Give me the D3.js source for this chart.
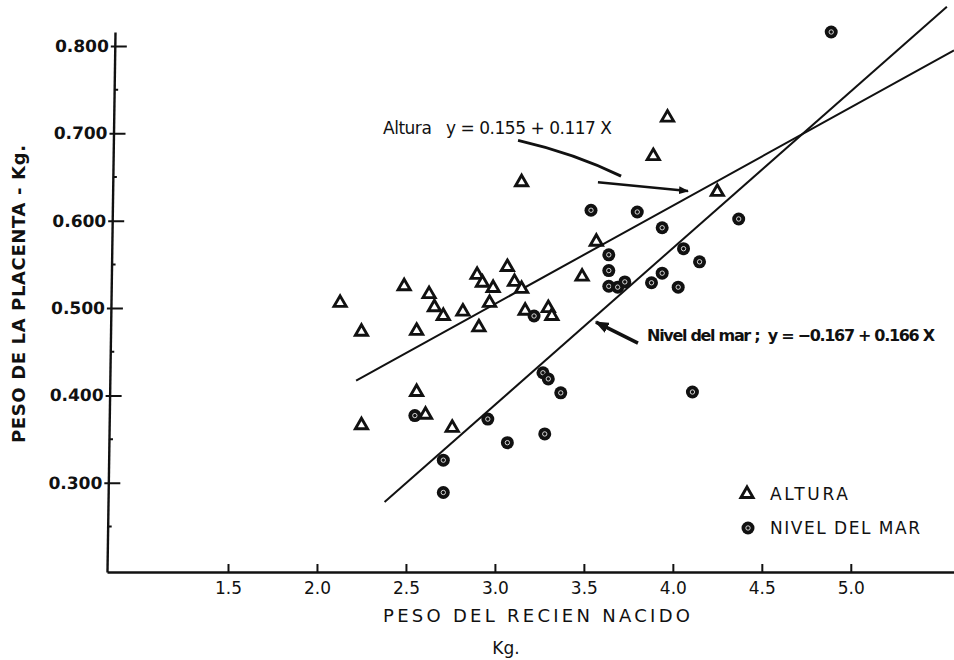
<!DOCTYPE html>
<html>
<head>
<meta charset="utf-8">
<script src="https://cdn.jsdelivr.net/npm/d3@7"></script>
<style>
  body { margin: 0; background: #fff; }
  svg { display: block; }
  text { font-family: "DejaVu Sans", sans-serif; fill: #111; }
</style>
</head>
<body>
<div id="chart"></div>
<script>
// Altura (triangulos): [peso recien nacido kg, peso placenta kg]
const altura = [
  [2.13, 0.506], [2.49, 0.525], [2.25, 0.473], [2.56, 0.474], [2.63, 0.516],
  [2.66, 0.501], [2.71, 0.491], [2.82, 0.496], [2.90, 0.538], [2.93, 0.529],
  [2.99, 0.523], [2.97, 0.506], [2.91, 0.478], [3.07, 0.547], [3.11, 0.530],
  [3.15, 0.522], [3.17, 0.497], [3.30, 0.500], [3.32, 0.491], [2.56, 0.404],
  [2.61, 0.378], [2.25, 0.366], [2.76, 0.363], [3.97, 0.718], [3.89, 0.674],
  [3.15, 0.644], [4.25, 0.633], [3.57, 0.576], [3.49, 0.536]
];

// Nivel del mar (circulos)
const nivelMar = [
  [3.54, 0.612], [3.80, 0.610], [3.94, 0.592], [4.37, 0.602], [3.64, 0.561],
  [3.64, 0.543], [3.64, 0.525], [3.69, 0.524], [3.73, 0.530], [3.88, 0.529],
  [3.94, 0.540], [4.03, 0.524], [4.06, 0.568], [4.15, 0.553], [3.22, 0.491],
  [3.27, 0.426], [3.30, 0.419], [3.37, 0.403], [2.96, 0.373], [3.07, 0.346],
  [3.28, 0.356], [2.55, 0.377], [2.71, 0.326], [2.71, 0.289], [4.89, 0.816],
  [4.11, 0.404]
];

// regression lines as drawn (end points)
const lineAltura = [[2.22, 0.417], [5.58, 0.795]];
const lineMar = [[2.38, 0.278], [5.54, 0.845]];

const xTicks = [1.5, 2.0, 2.5, 3.0, 3.5, 4.0, 4.5, 5.0];
const yTicks = [0.3, 0.4, 0.5, 0.6, 0.7, 0.8];
const yMinor = [0.25, 0.35, 0.45, 0.55, 0.65, 0.75];

const width = 954;
const height = 660;

const svg = d3.select("#chart")
  .append("svg")
  .attr("width", width)
  .attr("height", height);

const x = d3.scaleLinear().domain([0.82, 5.58]).range([107, 954]);
const y = d3.scaleLinear().domain([0.198, 0.816]).range([572, 32]);

// arrow head
svg.append("defs").append("marker")
  .attr("id", "head")
  .attr("viewBox", "0 0 10 8")
  .attr("refX", 9).attr("refY", 4)
  .attr("markerWidth", 4).attr("markerHeight", 3.2)
  .attr("orient", "auto")
  .append("path")
  .attr("d", "M0,0 L10,4 L0,8 Z")
  .attr("fill", "#111");

// x axis
const xAxis = svg.append("g")
  .attr("transform", "translate(0,572)")
  .call(d3.axisBottom(x).tickValues(xTicks).tickSizeInner(-8).tickSizeOuter(0)
    .tickPadding(10).tickFormat(d3.format(".1f")));
xAxis.select(".domain").attr("stroke", "#111").attr("stroke-width", 2.4);
xAxis.selectAll(".tick line").attr("stroke", "#111").attr("stroke-width", 2);
xAxis.selectAll(".tick text")
  .style("font-size", "17px")
  .attr("fill", "#111");

// y axis, the scan is slightly tilted
const yAxis = svg.append("g")
  .attr("transform", "translate(107,572) skewX(-0.85) translate(0,-572)")
  .call(d3.axisLeft(y).tickValues(yTicks).tickSizeInner(-12).tickSizeOuter(0)
    .tickPadding(6).tickFormat(d3.format(".3f")));
yAxis.select(".domain").attr("stroke", "#111").attr("stroke-width", 2.4);
yAxis.selectAll(".tick line").attr("stroke", "#111").attr("stroke-width", 2)
  .attr("x1", -4);
yAxis.selectAll(".tick text")
  .attr("x", -6)
  .style("font-size", "17px")
  .style("font-weight", "bold")
  .attr("fill", "#111");
yAxis.selectAll(".minor")
  .data(yMinor)
  .enter().append("line")
  .attr("class", "minor")
  .attr("x1", 0).attr("x2", 4)
  .attr("y1", d => y(d)).attr("y2", d => y(d))
  .attr("stroke", "#111").attr("stroke-width", 2);

// axis titles
svg.append("text")
  .attr("x", 383).attr("y", 622)
  .attr("textLength", 307).attr("lengthAdjust", "spacing")
  .style("font-size", "18px")
  .text("PESO DEL RECIEN NACIDO");
svg.append("text")
  .attr("x", 506).attr("y", 654)
  .attr("text-anchor", "middle")
  .style("font-size", "17px")
  .text("Kg.");
svg.append("text")
  .attr("transform", "translate(25,443) rotate(-90)")
  .attr("textLength", 298).attr("lengthAdjust", "spacing")
  .style("font-size", "18px")
  .style("font-weight", "bold")
  .text("PESO DE LA PLACENTA - Kg.");

// regression lines
const line = d3.line().x(d => x(d[0])).y(d => y(d[1]));
[lineAltura, lineMar].forEach(l => {
  svg.append("path")
    .attr("d", line(l))
    .attr("fill", "none")
    .attr("stroke", "#111")
    .attr("stroke-width", 2);
});

// points
const tri = d3.symbol().type(d3.symbolTriangle).size(64);
svg.append("g").selectAll("path")
  .data(altura)
  .enter().append("path")
  .attr("d", tri)
  .attr("transform", d => `translate(${x(d[0])},${y(d[1])})`)
  .attr("fill", "#fff")
  .attr("stroke", "#111")
  .attr("stroke-width", 2.9)
  .attr("stroke-linejoin", "miter");

const dots = svg.append("g").selectAll("g")
  .data(nivelMar)
  .enter().append("g")
  .attr("transform", d => `translate(${x(d[0])},${y(d[1])})`);
dots.append("circle").attr("r", 6.5).attr("fill", "#111");
dots.append("circle").attr("r", 2.2).attr("fill", "none")
  .attr("stroke", "#fff").attr("stroke-width", 0.8);

// annotations
svg.append("text")
  .attr("x", x(2.371)).attr("y", y(0.699))
  .attr("textLength", 229).attr("lengthAdjust", "spacing")
  .style("font-size", "17px")
  .style("white-space", "pre")
  .text("Altura   y = 0.155 + 0.117 X");
svg.append("path")
  .attr("d", `M${x(3.13)},${y(0.692)} Q${x(3.45)},${y(0.677)} ${x(3.709)},${y(0.651)}`)
  .attr("fill", "none").attr("stroke", "#111").attr("stroke-width", 3);
svg.append("path")
  .attr("d", `M${x(3.579)},${y(0.644)} L${x(4.085)},${y(0.634)}`)
  .attr("fill", "none").attr("stroke", "#111").attr("stroke-width", 2.5)
  .attr("marker-end", "url(#head)");

svg.append("text")
  .attr("x", x(3.855)).attr("y", y(0.462))
  .attr("textLength", 288).attr("lengthAdjust", "spacing")
  .style("font-size", "16px")
  .style("font-weight", "bold")
  .style("white-space", "pre")
  .text("Nivel del mar ;  y = \u22120.167 + 0.166 X");
svg.append("path")
  .attr("d", `M${x(3.804)},${y(0.460)} L${x(3.568)},${y(0.484)}`)
  .attr("fill", "none").attr("stroke", "#111").attr("stroke-width", 3.5)
  .attr("marker-end", "url(#head)");

// legend
const legend = svg.append("g");
legend.append("path")
  .attr("d", tri)
  .attr("transform", "translate(747,494)")
  .attr("fill", "#fff").attr("stroke", "#111").attr("stroke-width", 2.9);
legend.append("text")
  .attr("x", 770).attr("y", 500)
  .attr("textLength", 78).attr("lengthAdjust", "spacing")
  .style("font-size", "17px")
  .text("ALTURA");
legend.append("circle").attr("cx", 748).attr("cy", 528).attr("r", 6.5).attr("fill", "#111");
legend.append("circle").attr("cx", 748).attr("cy", 528).attr("r", 2.2)
  .attr("fill", "none").attr("stroke", "#fff").attr("stroke-width", 0.8);
legend.append("text")
  .attr("x", 770).attr("y", 534)
  .attr("textLength", 150).attr("lengthAdjust", "spacing")
  .style("font-size", "17px")
  .text("NIVEL DEL MAR");
</script>
</body>
</html>
